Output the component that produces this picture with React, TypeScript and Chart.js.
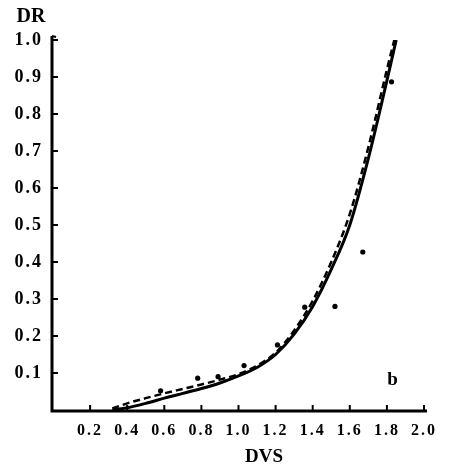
import React, { useEffect, useRef } from "react";
import { Chart, registerables } from "chart.js";

Chart.register(...registerables);

// Simulated curve (solid)
const solidX = [0.32, 0.4, 0.5, 0.6, 0.7, 0.8, 0.9, 1.0, 1.1, 1.2, 1.3, 1.4, 1.5, 1.6, 1.7, 1.8, 1.85];
const solidY = [0, 0.006, 0.018, 0.032, 0.045, 0.058, 0.073, 0.092, 0.115, 0.15, 0.205, 0.28, 0.38, 0.5, 0.68, 0.89, 1.0];

// Fitted curve (dashed)
const dashX = [0.32, 0.4, 0.5, 0.6, 0.7, 0.8, 0.9, 1.0, 1.1, 1.2, 1.3, 1.4, 1.5, 1.6, 1.7, 1.8, 1.84];
const dashY = [0.004, 0.018, 0.032, 0.045, 0.057, 0.069, 0.082, 0.097, 0.12, 0.155, 0.215, 0.295, 0.4, 0.53, 0.71, 0.92, 1.0];

// Observed points
const obsX = [0.58, 0.78, 0.89, 1.03, 1.21, 1.357, 1.52, 1.67, 1.825];
const obsY = [0.052, 0.086, 0.09, 0.12, 0.176, 0.278, 0.28, 0.427, 0.887];

const xTickStep = 0.2;
const yTickStep = 0.1;
const xTitle = "DVS";
const yTitle = "DR";
const panelLabel = "b";

const FONT = "'Liberation Serif', 'DejaVu Serif', serif";

const zip = (xs: number[], ys: number[]) => xs.map((x, i) => ({ x, y: ys[i] }));

export default function App() {
  const ref = useRef<HTMLCanvasElement | null>(null);

  useEffect(() => {
    document.body.style.margin = "0";
    const canvas = ref.current!;
    const spacing = (chart: any) => {
      try {
        (chart.ctx as any).letterSpacing = "2px";
      } catch (e) {}
    };
    const deco = {
      id: "deco",
      beforeUpdate: spacing,
      beforeDraw: spacing,
      afterDraw(chart: any) {
        const ctx = chart.ctx as CanvasRenderingContext2D;
        const xs = chart.scales.x;
        const ys = chart.scales.y;
        const left = xs.getPixelForValue(0);
        const bottom = ys.getPixelForValue(0);
        const top = ys.getPixelForValue(1);
        const right = xs.getPixelForValue(2);
        ctx.save();
        (ctx as any).letterSpacing = "0px";
        ctx.strokeStyle = "#000";
        ctx.lineCap = "butt";
        // axes
        ctx.lineWidth = 3;
        ctx.beginPath();
        ctx.moveTo(left - 1, top - 4);
        ctx.lineTo(left - 1, bottom + 1);
        ctx.lineTo(right + 3, bottom + 1);
        ctx.stroke();
        ctx.lineWidth = 2;
        ctx.beginPath();
        ctx.moveTo(left - 1, top - 4);
        ctx.lineTo(left + 3, top - 3);
        ctx.stroke();
        // inward ticks
        ctx.lineWidth = 2;
        xs.ticks.forEach((t: any) => {
          if (t.value <= 0) return;
          const px = xs.getPixelForValue(t.value);
          ctx.beginPath();
          ctx.moveTo(px, bottom);
          ctx.lineTo(px, bottom - 5);
          ctx.stroke();
        });
        ys.ticks.forEach((t: any) => {
          if (t.value <= 0) return;
          const py = ys.getPixelForValue(t.value);
          ctx.beginPath();
          ctx.moveTo(left, py);
          ctx.lineTo(left + 5, py);
          ctx.stroke();
        });
        // titles
        ctx.fillStyle = "#000";
        ctx.textAlign = "center";
        ctx.textBaseline = "middle";
        ctx.font = `bold 20px ${FONT}`;
        ctx.fillText(yTitle, 31, 17);
        ctx.font = `bold 19px ${FONT}`;
        ctx.fillText(xTitle, 264, 457);
        ctx.font = `bold 19px ${FONT}`;
        ctx.fillText(panelLabel, xs.getPixelForValue(1.83), ys.getPixelForValue(0.08));
        ctx.restore();
      },
    };

    const chart = new Chart(canvas, {
      type: "scatter",
      data: {
        datasets: [
          {
            type: "line",
            data: zip(solidX, solidY),
            borderColor: "#000",
            borderWidth: 3,
            pointRadius: 0,
            cubicInterpolationMode: "monotone",
            fill: false,
          } as any,
          {
            type: "line",
            data: zip(dashX, dashY),
            borderColor: "#000",
            borderWidth: 2.5,
            borderDash: [7, 4],
            pointRadius: 0,
            cubicInterpolationMode: "monotone",
            fill: false,
          } as any,
          {
            data: zip(obsX, obsY),
            backgroundColor: "#000",
            borderColor: "#000",
            pointRadius: 2.6,
            borderWidth: 0,
            showLine: false,
          },
        ],
      },
      options: {
        responsive: false,
        animation: false,
        events: [],
        layout: { autoPadding: false, padding: { top: 40, right: 29, left: 0, bottom: 0 } },
        plugins: { legend: { display: false }, tooltip: { enabled: false } },
        scales: {
          x: {
            type: "linear",
            min: 0,
            max: 2,
            afterFit: (s: any) => {
              s.height = 56;
            },
            grid: { display: false, drawTicks: false },
            border: { display: false },
            ticks: {
              stepSize: xTickStep,
              padding: 11,
              color: "#000",
              maxRotation: 0,
              autoSkip: false,
              font: { family: FONT, size: 16, weight: "bold" },
              callback: (v: any) => (Number(v) <= 0 ? "" : Number(v).toFixed(1)),
            },
          },
          y: {
            type: "linear",
            min: 0,
            max: 1,
            afterFit: (s: any) => {
              s.width = 53;
            },
            grid: { display: false, drawTicks: false },
            border: { display: false },
            ticks: {
              stepSize: yTickStep,
              padding: 10,
              color: "#000",
              autoSkip: false,
              font: { family: FONT, size: 18, weight: "bold" },
              callback: (v: any) => (Number(v) <= 0 ? "" : Number(v).toFixed(1)),
            },
          },
        },
      } as any,
      plugins: [deco],
    });
    return () => chart.destroy();
  }, []);

  return (
    <div style={{ width: 453, height: 466, background: "#fff" }}>
      <canvas ref={ref} width={453} height={466} style={{ width: 453, height: 466, display: "block" }} />
    </div>
  );
}
